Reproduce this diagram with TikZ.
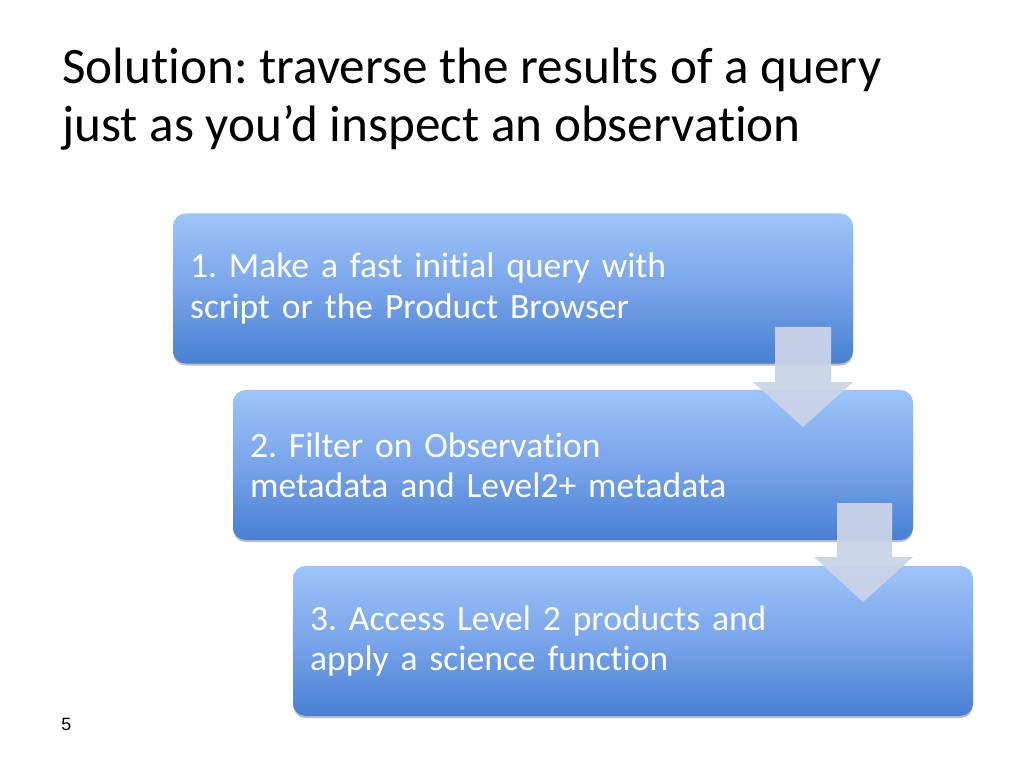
\documentclass[tikz,border=0pt]{standalone}
\usepackage{fontspec}
\setmainfont{Carlito}[Ligatures={NoCommon}]
\newfontfamily\numfont{Liberation Sans}
\usetikzlibrary{shadows}
\definecolor{boxtop}{RGB}{158,196,248}
\definecolor{boxmid}{RGB}{120,164,234}
\definecolor{boxbot}{RGB}{72,128,210}
\definecolor{arrowfill}{RGB}{202,212,232}
\tikzset{
  stepbox/.style={rectangle, rounded corners=9pt, draw=none,
    top color=boxtop, bottom color=boxbot, middle color=boxmid,
    minimum width=478.125pt, minimum height=105.5pt,
    text width=454pt, inner xsep=12pt, inner ysep=0pt, align=left,
    text=white, font=\fontsize{25}{28.2}\selectfont,
    drop shadow={shadow xshift=0pt, shadow yshift=-1.5pt, opacity=0.25, fill=black}},
  blockarrow/.style={fill=arrowfill, draw=none, fill opacity=0.95}
}
\frenchspacing
\begin{document}
\begin{tikzpicture}[x=0.703125pt,y=-0.703125pt]
\useasboundingbox (0,0) rectangle (1024,768);
\fill[white] (0,0) rectangle (1024,768);
\node[anchor=base west, inner sep=0pt, align=left, font=\fontsize{36}{40.8}\selectfont] (title) at (62,142)
  {Solution: traverse the results of a query\\just as you’d inspect an observation};
\node[stepbox] (s1) at (513,288.5) {1. Make a fast initial query with\\script or the Product Browser};
\node[stepbox] (s2) at (573,465) {2. Filter on Observation\\metadata and Level2+ metadata};
\node[stepbox] (s3) at (633,641) {3. Access Level 2 products and\\apply a science function};
\fill[blockarrow] (775,327) -- (831,327) -- (831,382) -- (853,382) -- (803,427) -- (753,382) -- (775,382) -- cycle;
\fill[blockarrow] (837,503) -- (892,503) -- (892,557) -- (913,557) -- (863,602) -- (814,557) -- (837,557) -- cycle;
\node[anchor=base west, inner sep=0pt, font=\numfont\fontsize{12.5}{14}\selectfont] (num) at (61,730) {5};
\end{tikzpicture}
\end{document}
